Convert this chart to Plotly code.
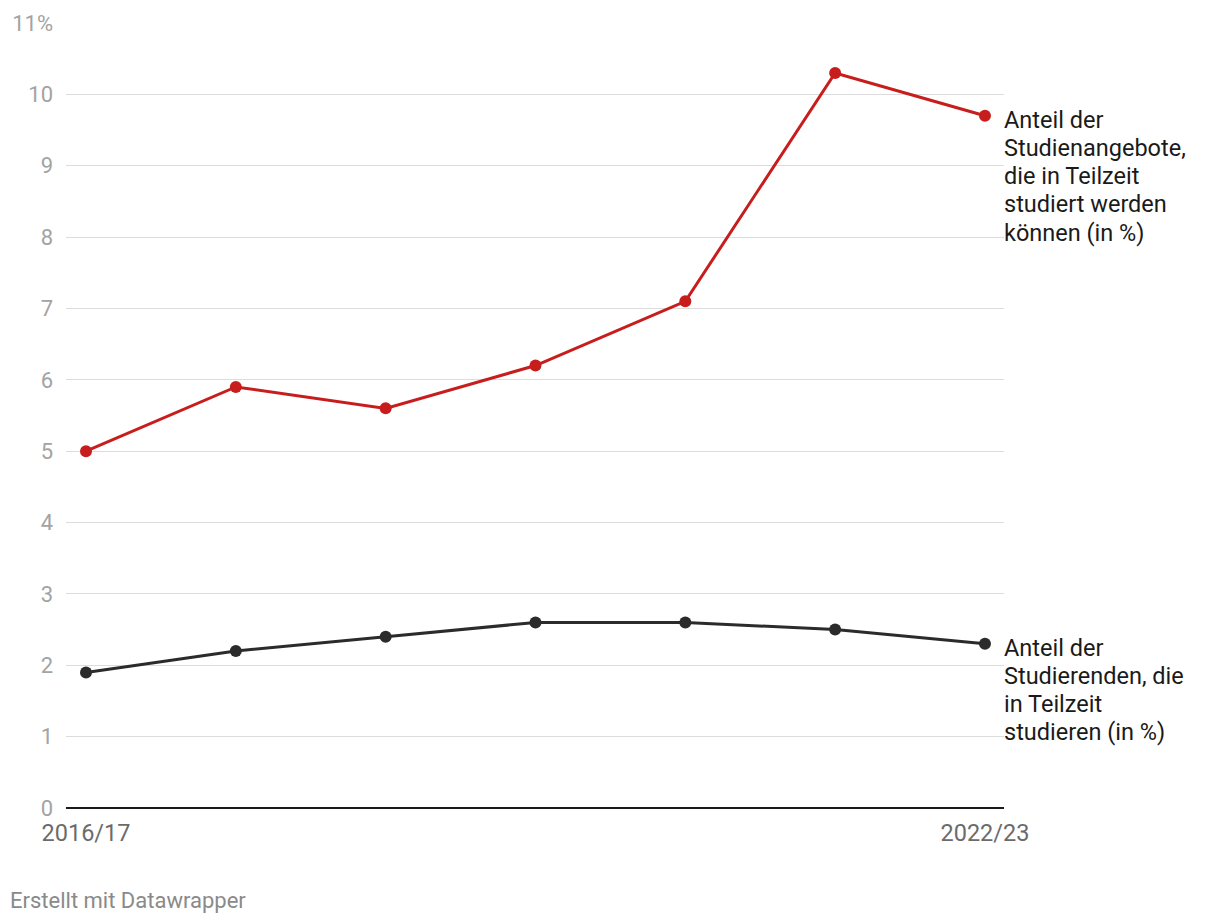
import plotly.graph_objects as go

years = ["2016/17", "2017/18", "2018/19", "2019/20", "2020/21", "2021/22", "2022/23"]
angebote = [5.0, 5.9, 5.6, 6.2, 7.1, 10.3, 9.7]
studierende = [1.9, 2.2, 2.4, 2.6, 2.6, 2.5, 2.3]
ytick_vals = list(range(0, 12))
ytick_text = [str(v) for v in range(0, 11)] + ["11%"]
label_angebote = ["Anteil der", "Studienangebote,", "die in Teilzeit", "studiert werden", "können (in %)"]
label_studierende = ["Anteil der", "Studierenden, die", "in Teilzeit", "studieren (in %)"]

xi = list(range(len(years)))
RED = "#c71e1d"
DARK = "#2b2b2b"
FONT = "Roboto"

fig = go.Figure()
fig.add_trace(go.Scatter(x=xi, y=studierende, mode="lines+markers",
                         line=dict(color=DARK, width=3), marker=dict(size=12, color=DARK),
                         hoverinfo="skip"))
fig.add_trace(go.Scatter(x=xi, y=angebote, mode="lines+markers",
                         line=dict(color=RED, width=3), marker=dict(size=12, color=RED),
                         hoverinfo="skip"))

for yv, lines in [(angebote[-1], label_angebote), (studierende[-1], label_studierende)]:
    for i, ln in enumerate(lines):
        fig.add_annotation(x=xi[-1], y=yv, xref="x", yref="y", text=ln, showarrow=False,
                           xanchor="left", yanchor="middle", align="left",
                           xshift=17, yshift=-4 - 28.2 * i,
                           font=dict(family=FONT, size=23.5, color="#1a1a1a"))

fig.add_annotation(x=0, y=0, xref="paper", yref="paper", text="Erstellt mit Datawrapper",
                   showarrow=False, xanchor="left", yanchor="middle", xshift=-58, yshift=-92,
                   font=dict(family=FONT, size=22, color="#8a8a8a"))

fig.update_layout(
    width=1220, height=924,
    margin=dict(l=66, r=216, t=23, b=116),
    paper_bgcolor="white", plot_bgcolor="white",
    showlegend=False,
    font=dict(family=FONT),
    xaxis=dict(range=[-0.1335, 6.127], tickmode="array",
               tickvals=[xi[0], xi[-1]], ticktext=[years[0], years[-1]],
               showgrid=False, zeroline=False, showline=False, ticks="",
               ticklabelstandoff=8,
               tickfont=dict(family=FONT, size=23.5, color="#6b6b6b")),
    yaxis=dict(range=[0, 11], tickmode="array", tickvals=ytick_vals, ticktext=ytick_text,
               showgrid=True, gridcolor="#dcdcdc", gridwidth=1,
               zeroline=True, zerolinecolor="#1a1a1a", zerolinewidth=2,
               showline=False, ticks="", ticklabelstandoff=12,
               tickfont=dict(family=FONT, size=22, color="#a3a3a3")),
)

fig.write_html("out.html")
